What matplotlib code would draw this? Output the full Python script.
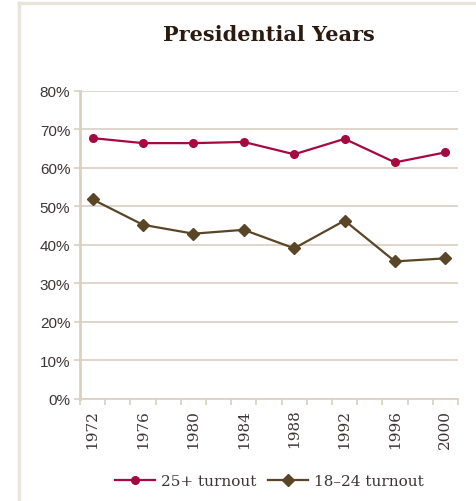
import numpy as np
import matplotlib.pyplot as plt
from matplotlib.lines import Line2D

# Data
years = [1972, 1976, 1980, 1984, 1988, 1992, 1996, 2000]
turnout_25plus = [67.7, 66.4, 66.4, 66.7, 63.5, 67.5, 61.4, 64.0]
turnout_18_24 = [51.8, 45.2, 42.9, 43.9, 39.1, 46.3, 35.7, 36.5]
y_ticks = [0, 10, 20, 30, 40, 50, 60, 70, 80]

red = '#A6093D'
brown = '#5A4527'
beige = '#D9D0C1'
text_col = '#3d3535'

fig = plt.figure(figsize=(4.77, 5.02), dpi=100)
ax = fig.add_axes([0.1677, 0.2032, 0.7925, 0.6141])

ax.plot(years, turnout_25plus, color=red, marker='o', markersize=5.5, lw=1.6,
        label='25+ turnout')
ax.plot(years, turnout_18_24, color=brown, marker='D', markersize=6.5, lw=1.6,
        label='18\u201324 turnout')

ax.set_xlim(1971, 2001)
ax.set_ylim(0, 80)
ax.set_yticks(y_ticks)
ax.set_yticklabels([f'{v}%' for v in y_ticks], fontsize=11, color=text_col,
                   family='Liberation Sans')
ax.set_xticks(years)
ax.set_xticklabels([str(y) for y in years], rotation=90, fontsize=11,
                   color=text_col, family='DejaVu Serif')
ax.set_xticks(np.arange(1971, 2002, 2), minor=True)
ax.tick_params(axis='x', which='major', length=0, pad=7)
ax.tick_params(axis='x', which='minor', length=4, color=beige, width=1.2)
ax.tick_params(axis='y', length=4, color=beige, width=1.2, pad=3)

ax.grid(axis='y', color=beige, lw=1.2)
ax.set_axisbelow(True)
for s in ['top', 'right']:
    ax.spines[s].set_visible(False)
ax.spines['left'].set_color(beige)
ax.spines['left'].set_linewidth(2)
ax.spines['bottom'].set_color(beige)
ax.spines['bottom'].set_linewidth(1.2)

fig.text(0.564, 0.93, 'Presidential Years', ha='center', va='center',
         fontsize=15, fontweight='heavy', family='DejaVu Serif', color='#2a1a10')

leg = fig.legend(loc='center', bbox_to_anchor=(0.565, 0.04), ncol=2,
                 frameon=False, handlelength=2.6, columnspacing=0.8,
                 handletextpad=0.4, prop={'family': 'DejaVu Serif', 'size': 11})
for t in leg.get_texts():
    t.set_color(text_col)

# light frame along the top and left edges
fig.add_artist(Line2D([19 / 477, 1], [1 - 4 / 502, 1 - 4 / 502],
                      transform=fig.transFigure, color='#E9E4DA', lw=2.5))
fig.add_artist(Line2D([19 / 477, 19 / 477], [0, 1 - 4 / 502],
                      transform=fig.transFigure, color='#E9E4DA', lw=2.5))

fig.savefig('out.png', dpi=100)
